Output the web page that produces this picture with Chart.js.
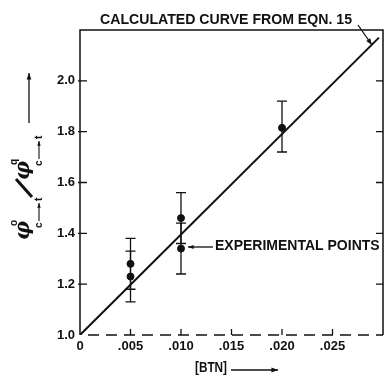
<!DOCTYPE html>
<html>
<head>
<meta charset="utf-8">
<script src="https://cdn.jsdelivr.net/npm/chart.js@4.4.0/dist/chart.umd.min.js"></script>
<style>
  body { margin: 0; background: #fff; }
  #wrap { width: 388px; height: 381px; }
</style>
</head>
<body>
<div id="wrap"><canvas id="btn_chart" width="388" height="381"></canvas></div>
<script>
// Data

const btnConc = [0.005, 0.005, 0.010, 0.010, 0.020];
const ratio = [1.28, 1.23, 1.46, 1.34, 1.815];
const ratioLow = [1.18, 1.13, 1.36, 1.24, 1.72];
const ratioHigh = [1.38, 1.33, 1.56, 1.44, 1.92];

const curveX = [0, 0.0296];
const curveY = [1.0, 2.17];

const xTicks = [0, 0.005, 0.010, 0.015, 0.020, 0.025];
const xTickLabels = ['0', '.005', '.010', '.015', '.020', '.025'];
const yTicks = [1.2, 1.4, 1.6, 1.8, 2.0];

const ink = '#111';
const narrow = '"Liberation Sans Narrow", "Liberation Sans", Arial, sans-serif';

function arrow(ctx, x1, y1, x2, y2, head) {
    ctx.beginPath();
    ctx.moveTo(x1, y1);
    ctx.lineTo(x2, y2);
    ctx.stroke();
    const a = Math.atan2(y2 - y1, x2 - x1);
    ctx.beginPath();
    ctx.moveTo(x2, y2);
    ctx.lineTo(x2 - head * Math.cos(a - 0.35), y2 - head * Math.sin(a - 0.35));
    ctx.lineTo(x2 - head * Math.cos(a + 0.35), y2 - head * Math.sin(a + 0.35));
    ctx.closePath();
    ctx.fill();
}

// subscript "c -> t" drawn as c, arrow, t
function reaction(ctx, x, y) {
    ctx.font = 'bold 10px "Liberation Sans", Arial, sans-serif';
    ctx.fillText('c', x, y);
    ctx.lineWidth = 1.1;
    arrow(ctx, x + 7, y - 3, x + 25, y - 3, 5);
    ctx.fillText('t', x + 27, y);
}

// Frame, ticks, error bars and labels

const decorations = {
    id: 'decorations',
    afterDatasetsDraw(chart) {
        const ctx = chart.ctx;
        const area = chart.chartArea;
        const xs = chart.scales.x;
        const ys = chart.scales.y;
        ctx.save();
        ctx.strokeStyle = ink;
        ctx.fillStyle = ink;

        // frame
        ctx.lineWidth = 1.5;
        ctx.beginPath();
        ctx.moveTo(area.left, area.bottom);
        ctx.lineTo(area.left, area.top);
        ctx.lineTo(area.right, area.top);
        ctx.lineTo(area.right, area.bottom);
        ctx.stroke();
        ctx.setLineDash([11, 7]);
        ctx.beginPath();
        ctx.moveTo(area.left + 8, area.bottom);
        ctx.lineTo(area.right, area.bottom);
        ctx.stroke();
        ctx.setLineDash([]);

        // inside ticks
        ctx.lineWidth = 1.3;
        yTicks.forEach(v => {
            const py = ys.getPixelForValue(v);
            ctx.beginPath();
            ctx.moveTo(area.left - 2, py);
            ctx.lineTo(area.left + 7, py);
            ctx.moveTo(area.right - 7, py);
            ctx.lineTo(area.right, py);
            ctx.stroke();
        });
        xTicks.slice(1).forEach(v => {
            const px = xs.getPixelForValue(v);
            ctx.beginPath();
            ctx.moveTo(px, area.bottom);
            ctx.lineTo(px, area.bottom - 6);
            ctx.stroke();
        });

        // error bars
        btnConc.forEach((x, i) => {
            const px = xs.getPixelForValue(x);
            const lo = ys.getPixelForValue(ratioLow[i]);
            const hi = ys.getPixelForValue(ratioHigh[i]);
            ctx.beginPath();
            ctx.moveTo(px, lo);
            ctx.lineTo(px, hi);
            ctx.moveTo(px - 5, lo);
            ctx.lineTo(px + 5, lo);
            ctx.moveTo(px - 5, hi);
            ctx.lineTo(px + 5, hi);
            ctx.stroke();
        });

        // annotations
        ctx.font = 'bold 15px ' + narrow;
        ctx.textBaseline = 'middle';
        ctx.textAlign = 'left';
        ctx.fillText('CALCULATED CURVE FROM EQN. 15', 100, 20, 252);
        arrow(ctx, 358, 25, 372, 45, 7);

        ctx.font = 'bold 14px ' + narrow;
        ctx.fillText('EXPERIMENTAL POINTS', 215, 246, 167);
        arrow(ctx, 213, 247, 188, 247, 6);

        // x title
        ctx.font = 'bold 15px ' + narrow;
        ctx.fillText('[BTN]', 195, 368, 32);
        arrow(ctx, 231, 370, 278, 370, 7);

        // y title, rotated
        ctx.translate(30, 243);
        ctx.rotate(-Math.PI / 2);
        ctx.textBaseline = 'alphabetic';
        const phi = 'italic bold 21px "DejaVu Serif", "Liberation Serif", serif';
        const sup = 'bold 10px "Liberation Sans", Arial, sans-serif';

        ctx.font = phi;
        ctx.fillText('\u03C6', 3, -1);
        ctx.font = sup;
        ctx.fillText('o', 17, -13);
        reaction(ctx, 15, 12);

        // slash
        ctx.lineWidth = 3;
        ctx.beginPath();
        ctx.moveTo(46, 2);
        ctx.lineTo(64, -14);
        ctx.stroke();

        ctx.font = phi;
        ctx.fillText('\u03C6', 63, -1);
        ctx.font = sup;
        ctx.fillText('q', 78, -13);
        reaction(ctx, 77, 12);

        ctx.lineWidth = 1.3;
        arrow(ctx, 120, -1, 170, -1, 7);
        ctx.restore();
    }
};

const btn_chart = new Chart(document.getElementById('btn_chart'), {
    type: 'scatter',
    data: {
        datasets: [{
            label: 'Calculated curve',
            data: curveX.map((x, i) => ({ x: x, y: curveY[i] })),
            showLine: true,
            borderColor: ink,
            borderWidth: 2,
            pointRadius: 0
        }, {
            label: 'Experimental points',
            data: btnConc.map((x, i) => ({ x: x, y: ratio[i] })),
            backgroundColor: ink,
            borderColor: ink,
            pointRadius: 3.5
        }]
    },
    plugins: [decorations],
    options: {
        responsive: false,
        animation: false,
        layout: { padding: { left: 0, top: 30, right: 1, bottom: 0 } },
        plugins: {
            legend: { display: false },
            tooltip: { enabled: false }
        },
        scales: {
            x: {
                type: 'linear',
                min: 0,
                max: 0.030,
                afterFit: scale => { scale.height = 46; },
                afterBuildTicks: scale => { scale.ticks = xTicks.map(v => ({ value: v })); },
                grid: { display: false, drawTicks: false },
                border: { display: false },
                ticks: {
                    color: ink,
                    font: { family: narrow, size: 13, weight: 'bold' },
                    padding: 4,
                    maxRotation: 0,
                    callback: (v) => xTickLabels[xTicks.indexOf(v)]
                }
            },
            y: {
                type: 'linear',
                min: 1.0,
                max: 2.2,
                afterFit: scale => { scale.width = 80; },
                afterBuildTicks: scale => { scale.ticks = [1.0].concat(yTicks).map(v => ({ value: v })); },
                grid: { display: false, drawTicks: false },
                border: { display: false },
                ticks: {
                    color: ink,
                    font: { family: narrow, size: 13, weight: 'bold' },
                    padding: 5,
                    callback: (v) => v.toFixed(1)
                }
            }
        }
    }
});
</script>
</body>
</html>
